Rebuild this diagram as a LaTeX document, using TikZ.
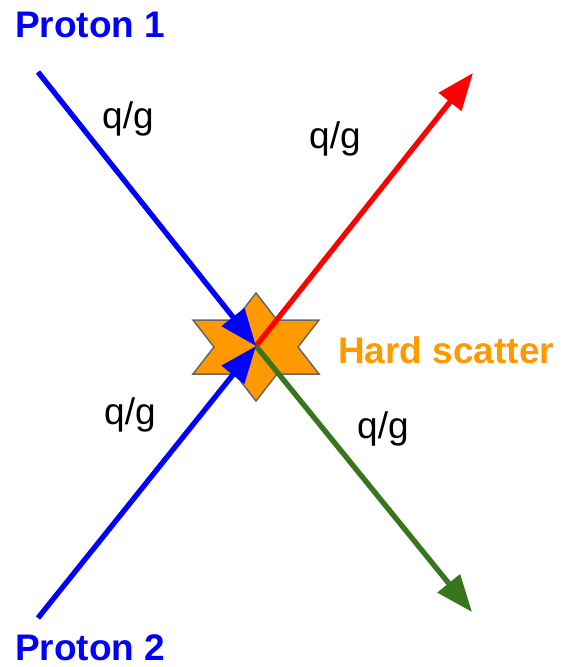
\documentclass[tikz,border=0pt]{standalone}
\usepackage{fontspec}
\setmainfont{Liberation Sans}
\usetikzlibrary{arrows.meta}
\definecolor{pblue}{HTML}{0000FF}
\definecolor{pred}{HTML}{FF0000}
\definecolor{pgreen}{HTML}{38761D}
\definecolor{porange}{HTML}{FF9900}
\definecolor{pgray}{HTML}{666666}
\tikzset{
  parton/.style={line width=5.3pt, -{Triangle[length=37pt,width=28pt]}},
  lbl/.style={font=\fontsize{37}{40}\selectfont, anchor=base west, inner sep=0pt},
  blbl/.style={font=\fontsize{37}{40}\selectfont\bfseries, anchor=base west, inner sep=0pt}
}
\begin{document}
\begin{tikzpicture}[x=1pt,y=-1pt]
\useasboundingbox (0,0) rectangle (561,667);
% star
\draw[fill=porange, draw=pgray, line width=1.5pt, line join=miter]
  (256,293) -- (277,320) -- (319,320) -- (298,347) -- (319,374) -- (277,374)
  -- (256,401) -- (235,374) -- (193,374) -- (214,347) -- (193,320) -- (235,320) -- cycle;
\coordinate (c) at (256,346);
\coordinate (p1) at (38,72);
\coordinate (p2) at (38,618);
\coordinate (o1) at (473,73);
\coordinate (o2) at (472,612);
\draw[parton, pred] (c) -- (o1);
\draw[parton, pgreen] (c) -- (o2);
\draw[parton, pblue] (p1) -- (c);
\draw[parton, pblue] (p2) -- (c);
\node[blbl, text=pblue] (t1) at (15,37) {Proton 1};
\node[blbl, text=pblue, text depth=0pt] (t2) at (15,660) {Proton 2};
\node[blbl, text=porange] (hs) at (338,363) {Hard scatter};
\node[lbl] (q1) at (102,128) {q/g};
\node[lbl] (q2) at (309,148) {q/g};
\node[lbl] (q3) at (104,424) {q/g};
\node[lbl] (q4) at (357,438) {q/g};
\end{tikzpicture}
\end{document}
